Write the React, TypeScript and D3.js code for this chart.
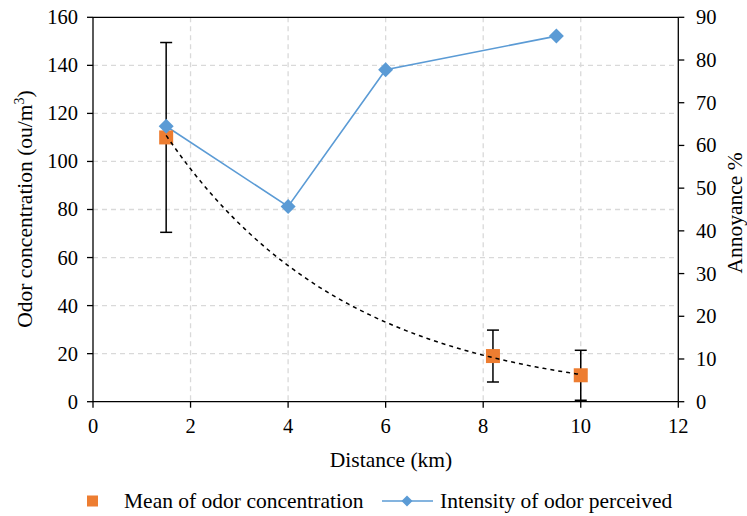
import React from "react";
import * as d3 from "d3";

// Odor concentration (left axis) by distance
const concDistance = [1.5, 8.2, 10];
const concMean = [110, 19, 11];
const concError = [39.5, 10.8, 10.4];

// Annoyance (right axis) by distance
const annoyDistance = [1.5, 4, 6, 9.5];
const annoyValue = [64.5, 45.7, 77.7, 85.6];

const xTicks = [0, 2, 4, 6, 8, 10, 12];
const yLeftTicks = [0, 20, 40, 60, 80, 100, 120, 140, 160];
const yRightTicks = [0, 10, 20, 30, 40, 50, 60, 70, 80, 90];

const W = 747;
const H = 516;
const M = { left: 93, right: 678.3, top: 17.3, bottom: 401.7 };
const FONT = "'Liberation Serif', 'Times New Roman', serif";
const ORANGE = "#ED7D31";
const BLUE = "#5B9BD5";
const GRID = "#d9d9d9";
const TICK_FS = 20.5;
const TITLE_FS = 21.5;

// Least-squares exponential trend y = a * exp(b x) on log values
function expFit(xs: number[], ys: number[]) {
  const ly = ys.map((v) => Math.log(v));
  const mx = d3.mean(xs)!;
  const my = d3.mean(ly)!;
  let sxy = 0;
  let sxx = 0;
  xs.forEach((x, i) => {
    sxy += (x - mx) * (ly[i] - my);
    sxx += (x - mx) * (x - mx);
  });
  const b = sxy / sxx;
  const a = Math.exp(my - b * mx);
  return (x: number) => a * Math.exp(b * x);
}

export default function App() {
  const x = d3.scaleLinear().domain([0, 12]).range([M.left, M.right]);
  const yL = d3.scaleLinear().domain([0, 160]).range([M.bottom, M.top]);
  const yR = d3.scaleLinear().domain([0, 90]).range([M.bottom, M.top]);

  const trend = expFit(concDistance, concMean);
  const [x0, x1] = d3.extent(concDistance) as [number, number];
  const trendPts = d3.range(0, 101).map((i) => {
    const xv = x0 + ((x1 - x0) * i) / 100;
    return [xv, trend(xv)] as [number, number];
  });
  const trendPath = d3
    .line<[number, number]>()
    .x((d) => x(d[0]))
    .y((d) => yL(d[1]))(trendPts)!;

  const annoyPath = d3
    .line<number>()
    .x((_, i) => x(annoyDistance[i]))
    .y((d) => yR(d))(annoyValue)!;

  const sq = 14;
  const dm = 7.5;
  const diamond = (cx: number, cy: number, r: number) =>
    `M${cx},${cy - r}L${cx + r},${cy}L${cx},${cy + r}L${cx - r},${cy}Z`;

  return (
    <svg
      width={W}
      height={H}
      style={{ position: "absolute", left: 0, top: 0, background: "#fff" }}
      fontFamily={FONT}
    >
      <rect width={W} height={H} fill="#fff" />
      {/* grid */}
      {xTicks.slice(1, -1).map((t) => (
        <line
          key={"gx" + t}
          x1={x(t)}
          x2={x(t)}
          y1={M.top}
          y2={M.bottom}
          stroke={GRID}
          strokeWidth={1.3}
          strokeDasharray="5,4"
        />
      ))}
      {yLeftTicks.slice(1, -1).map((t) => (
        <line
          key={"gy" + t}
          x1={M.left}
          x2={M.right}
          y1={yL(t)}
          y2={yL(t)}
          stroke={GRID}
          strokeWidth={1.3}
          strokeDasharray="5,4"
        />
      ))}

      {/* frame and axes */}
      <line x1={M.left} x2={M.right} y1={M.top} y2={M.top} stroke="#000" strokeWidth={1.3} />
      <line x1={M.left} x2={M.left} y1={M.top} y2={M.bottom} stroke="#000" strokeWidth={1.3} />
      <line x1={M.right} x2={M.right} y1={M.top} y2={M.bottom} stroke="#000" strokeWidth={1.3} />
      <line x1={M.left} x2={M.right} y1={M.bottom} y2={M.bottom} stroke="#000" strokeWidth={1.3} />

      {/* left axis ticks */}
      {yLeftTicks.map((t) => (
        <g key={"yl" + t}>
          <line x1={M.left - 6} x2={M.left} y1={yL(t)} y2={yL(t)} stroke="#000" strokeWidth={1.3} />
          <text x={78} y={yL(t)} dy="0.34em" textAnchor="end" fontSize={TICK_FS}>
            {t}
          </text>
        </g>
      ))}
      {/* right axis ticks */}
      {yRightTicks.map((t) => (
        <g key={"yr" + t}>
          <line x1={M.right} x2={M.right + 6} y1={yR(t)} y2={yR(t)} stroke="#000" strokeWidth={1.3} />
          <text x={696} y={yR(t)} dy="0.34em" textAnchor="start" fontSize={TICK_FS}>
            {t}
          </text>
        </g>
      ))}
      {/* bottom axis ticks */}
      {xTicks.map((t) => (
        <g key={"xt" + t}>
          <line x1={x(t)} x2={x(t)} y1={M.bottom} y2={M.bottom + 6} stroke="#000" strokeWidth={1.3} />
          <text x={x(t)} y={433} textAnchor="middle" fontSize={TICK_FS}>
            {t}
          </text>
        </g>
      ))}

      {/* axis titles */}
      <text x={391} y={467} textAnchor="middle" fontSize={TITLE_FS}>
        Distance (km)
      </text>
      <text
        transform={`translate(32,209) rotate(-90)`}
        textAnchor="middle"
        fontSize={TITLE_FS}
      >
        Odor concentration (ou/m
        <tspan dy="-8" fontSize={14}>
          3
        </tspan>
        <tspan dy="8">)</tspan>
      </text>
      <text
        transform={`translate(742,213) rotate(-90)`}
        textAnchor="middle"
        fontSize={TITLE_FS}
      >
        Annoyance %
      </text>

      {/* annoyance line */}
      <path d={annoyPath} fill="none" stroke={BLUE} strokeWidth={1.6} />

      {/* error bars */}
      {concDistance.map((d, i) => {
        const cx = x(d);
        const top = yL(concMean[i] + concError[i]);
        const bot = yL(Math.max(0, concMean[i] - concError[i]));
        return (
          <g key={"eb" + i} stroke="#000" strokeWidth={1.5}>
            <line x1={cx} x2={cx} y1={top} y2={bot} />
            <line x1={cx - 6} x2={cx + 6} y1={top} y2={top} />
            <line x1={cx - 6} x2={cx + 6} y1={bot} y2={bot} />
          </g>
        );
      })}

      {/* concentration markers */}
      {concDistance.map((d, i) => (
        <rect
          key={"sq" + i}
          x={x(d) - sq / 2}
          y={yL(concMean[i]) - sq / 2}
          width={sq}
          height={sq}
          fill={ORANGE}
        />
      ))}

      {/* trend line */}
      <path d={trendPath} fill="none" stroke="#000" strokeWidth={1.5} strokeDasharray="4,4" />

      {/* annoyance markers */}
      {annoyDistance.map((d, i) => (
        <path key={"dm" + i} d={diamond(x(d), yR(annoyValue[i]), dm)} fill={BLUE} />
      ))}

      {/* legend */}
      <rect x={87} y={495.5} width={11} height={11} fill={ORANGE} />
      <text x={124} y={508} fontSize={TITLE_FS}>
        Mean of odor concentration
      </text>
      <line x1={382} x2={433} y1={501} y2={501} stroke={BLUE} strokeWidth={1.6} />
      <path d={diamond(407, 501, 5.5)} fill={BLUE} />
      <text x={440} y={508} fontSize={TITLE_FS}>
        Intensity of odor perceived
      </text>
    </svg>
  );
}
